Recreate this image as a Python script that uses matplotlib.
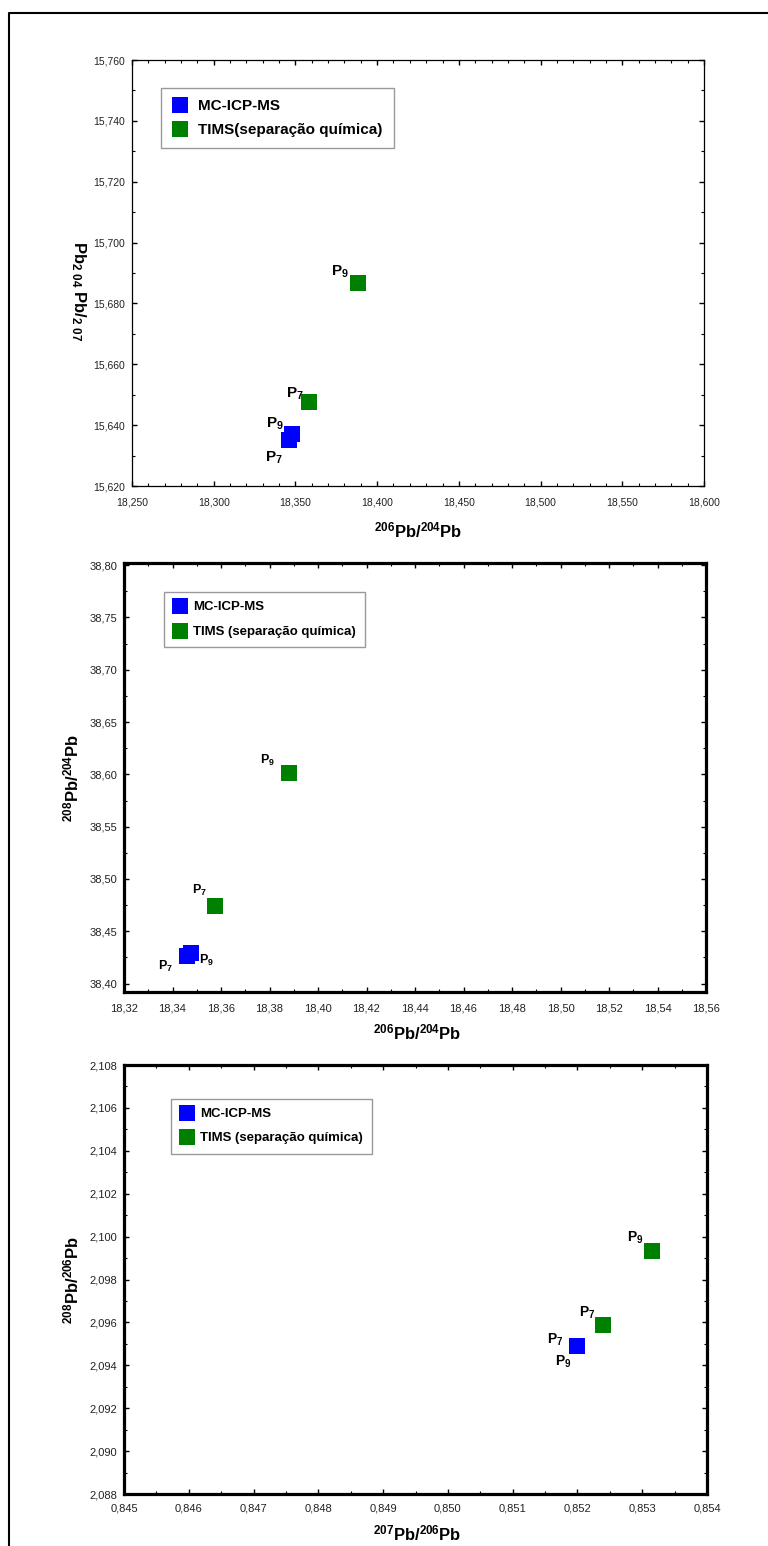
import matplotlib
matplotlib.use("Agg")
import matplotlib.pyplot as plt
import matplotlib.font_manager as fm
from matplotlib.lines import Line2D
from matplotlib.ticker import FixedLocator, MultipleLocator, FuncFormatter

try:
    fm.findfont("Liberation Sans Narrow", fallback_to_default=False)
    NARROW = "Liberation Sans Narrow"
except Exception:
    NARROW = "Liberation Sans"

plt.rcParams["font.family"] = ["Liberation Sans", "DejaVu Sans"]
plt.rcParams["mathtext.fontset"] = "custom"
plt.rcParams["mathtext.rm"] = "Liberation Sans:bold"
plt.rcParams["mathtext.bf"] = "Liberation Sans:bold"
plt.rcParams["mathtext.default"] = "regular"

# ---------------- data ----------------
series_names = ["MC-ICP-MS", "TIMS(separação química)"]
series_names_2 = ["MC-ICP-MS", "TIMS (separação química)"]
point_names = ["P7", "P9"]

# panel 1: 206Pb/204Pb vs 207Pb/204Pb
p1_mc_x = [18.346, 18.348]
p1_mc_y = [15.635, 15.637]
p1_tims_x = [18.358, 18.388]
p1_tims_y = [15.6475, 15.6866]

# panel 2: 206Pb/204Pb vs 208Pb/204Pb
p2_mc_x = [18.346, 18.3478]
p2_mc_y = [38.426, 38.429]
p2_tims_x = [18.3575, 18.388]
p2_tims_y = [38.474, 38.601]

# panel 3: 207Pb/206Pb vs 208Pb/206Pb
p3_mc_x = [0.8520, 0.8520]
p3_mc_y = [2.0949, 2.0949]
p3_tims_x = [0.85239, 0.85315]
p3_tims_y = [2.09586, 2.09932]

# ticks
p1_xticks = [18.25, 18.30, 18.35, 18.40, 18.45, 18.50, 18.55, 18.60]
p1_yticks = [15.62, 15.64, 15.66, 15.68, 15.70, 15.72, 15.74, 15.76]
p2_xticks = [18.32, 18.34, 18.36, 18.38, 18.40, 18.42, 18.44, 18.46, 18.48, 18.50, 18.52, 18.54, 18.56]
p2_yticks = [38.40, 38.45, 38.50, 38.55, 38.60, 38.65, 38.70, 38.75, 38.80]
p3_xticks = [0.845, 0.846, 0.847, 0.848, 0.849, 0.850, 0.851, 0.852, 0.853, 0.854]
p3_yticks = [2.088, 2.090, 2.092, 2.094, 2.096, 2.098, 2.100, 2.102, 2.104, 2.106, 2.108]

BLUE = "#0000FF"
GREEN = "#008000"

W, H = 768, 1546
fig = plt.figure(figsize=(W / 100, H / 100), dpi=100)


def fx(px):
    return px / W


def fy(py):
    return 1 - py / H


def comma_fmt(dec):
    return FuncFormatter(lambda v, p: f"{v:.{dec}f}".replace(".", ","))


def make_axes(box, xlim, ylim, xticks, yticks, xminor, yminor, xdec, ydec,
              spine_lw, tick_font, tick_size, xpad, ypad):
    l, t, r, b = box
    ax = fig.add_axes([fx(l), fy(b), fx(r) - fx(l), (b - t) / H])
    ax.set_xlim(*xlim)
    ax.set_ylim(*ylim)
    ax.xaxis.set_major_locator(FixedLocator(xticks))
    ax.yaxis.set_major_locator(FixedLocator(yticks))
    ax.xaxis.set_minor_locator(MultipleLocator(xminor))
    ax.yaxis.set_minor_locator(MultipleLocator(yminor))
    ax.xaxis.set_major_formatter(comma_fmt(xdec))
    ax.yaxis.set_major_formatter(comma_fmt(ydec))
    for s in ax.spines.values():
        s.set_linewidth(spine_lw)
        s.set_color("black")
    ax.tick_params(which="both", direction="in", top=True, right=True,
                   colors="black", labelcolor="#222222")
    ax.tick_params(which="major", length=3.5, width=1.0)
    ax.tick_params(which="minor", length=2, width=0.8)
    ax.tick_params(axis="x", pad=xpad)
    ax.tick_params(axis="y", pad=ypad)
    for lab in ax.get_xticklabels() + ax.get_yticklabels():
        lab.set_fontfamily(tick_font)
        lab.set_fontsize(tick_size)
    return ax


def plot_series(ax, mx, my, tx, ty, names, ms):
    h1, = ax.plot(mx, my, "s", color=BLUE, markersize=ms, markeredgewidth=0,
                  linestyle="none", label=names[0], zorder=3)
    h2, = ax.plot(tx, ty, "s", color=GREEN, markersize=ms, markeredgewidth=0,
                  linestyle="none", label=names[1], zorder=3)
    return h1, h2


def plabel(ax, x, y, name, dx, dy, size, ha="right"):
    txt = "P$_{" + name[1:] + "}$"
    ax.annotate(txt, (x, y), xytext=(dx * 0.72, dy * 0.72), textcoords="offset points",
                ha=ha, va="baseline", fontsize=size, fontweight="bold", zorder=4)


def legend(ax, handles, names, left, top, size, bpad, lspace, tpad):
    lg = ax.legend(handles, names, loc="upper left",
                   bbox_to_anchor=(fx(left), fy(top)), bbox_transform=fig.transFigure,
                   borderaxespad=0, fancybox=False, frameon=True, edgecolor="#808080",
                   prop={"weight": "bold", "size": size}, numpoints=1,
                   handlelength=1.0, handletextpad=tpad, borderpad=bpad,
                   labelspacing=lspace)
    lg.get_frame().set_linewidth(1.0)
    return lg


# ---------------- panel 1 ----------------
ax1 = make_axes((132, 60, 704, 486), (18.25, 18.60), (15.62, 15.76),
                p1_xticks, p1_yticks, 0.01, 0.01, 3, 3, 0.9,
                "Liberation Sans", 7.5, 8, 5)
h = plot_series(ax1, p1_mc_x, p1_mc_y, p1_tims_x, p1_tims_y, series_names, 11.5)
legend(ax1, h, series_names, 161, 88, 11, 0.75, 0.62, 0.65)
plabel(ax1, p1_mc_x[0], p1_mc_y[0], point_names[0], -6, -21, 11)
plabel(ax1, p1_mc_x[1], p1_mc_y[1], point_names[1], -8, 7, 11)
plabel(ax1, p1_tims_x[0], p1_tims_y[0], point_names[0], -5, 5, 11)
plabel(ax1, p1_tims_x[1], p1_tims_y[1], point_names[1], -9, 8, 11)
fig.text(fx(418), fy(530), r"$^{206}$Pb/$^{204}$Pb", ha="center", va="center",
         fontsize=12, fontweight="bold")
fig.text(fx(78), fy(291), r"Pb$_{2\ 04}$ Pb/$_{2\ 07}$", ha="center", va="center",
         rotation=-90, fontsize=12, fontweight="bold")

# ---------------- panel 2 ----------------
ax2 = make_axes((124, 563, 706, 992), (18.32, 18.56), (38.392, 38.802),
                p2_xticks, p2_yticks, 0.01, 0.025, 2, 2, 2.3,
                NARROW, 8, 8, 5)
h = plot_series(ax2, p2_mc_x, p2_mc_y, p2_tims_x, p2_tims_y, series_names_2, 11.5)
legend(ax2, h, series_names_2, 164, 592, 9.5, 0.7, 0.95, 0.5)
plabel(ax2, p2_mc_x[0], p2_mc_y[0], point_names[0], -14, -13, 9)
plabel(ax2, p2_mc_x[1], p2_mc_y[1], point_names[1], 8, -11, 9, ha="left")
plabel(ax2, p2_tims_x[0], p2_tims_y[0], point_names[0], -8, 12, 9)
plabel(ax2, p2_tims_x[1], p2_tims_y[1], point_names[1], -14, 9, 9)
fig.text(fx(417), fy(1032), r"$^{206}$Pb/$^{204}$Pb", ha="center", va="center",
         fontsize=12, fontweight="bold")
fig.text(fx(71), fy(778), r"$^{208}$Pb/$^{204}$Pb", ha="center", va="center",
         rotation=90, fontsize=12, fontweight="bold")

# ---------------- panel 3 ----------------
ax3 = make_axes((124, 1065, 707, 1494), (0.845, 0.854), (2.088, 2.108),
                p3_xticks, p3_yticks, 0.0005, 0.001, 3, 3, 2.3,
                NARROW, 8, 7, 5)
h = plot_series(ax3, p3_mc_x, p3_mc_y, p3_tims_x, p3_tims_y, series_names_2, 11.5)
legend(ax3, h, series_names_2, 171, 1099, 9.5, 0.7, 0.88, 0.5)
plabel(ax3, p3_mc_x[0], p3_mc_y[0], point_names[0], -14, 2, 10)
plabel(ax3, p3_mc_x[1], p3_mc_y[1], point_names[1], -6, -20, 10)
plabel(ax3, p3_tims_x[0], p3_tims_y[0], point_names[0], -7, 9, 10)
plabel(ax3, p3_tims_x[1], p3_tims_y[1], point_names[1], -8, 10, 10)
fig.text(fx(417), fy(1533), r"$^{207}$Pb/$^{206}$Pb", ha="center", va="center",
         fontsize=12, fontweight="bold")
fig.text(fx(71), fy(1280), r"$^{208}$Pb/$^{206}$Pb", ha="center", va="center",
         rotation=90, fontsize=12, fontweight="bold")

# outer frame (left and top edges)
fig.add_artist(Line2D([fx(9), fx(9), fx(768)], [0, fy(13), fy(13)],
                      transform=fig.transFigure, color="black", lw=1.5))

fig.savefig("out.png", dpi=100)
